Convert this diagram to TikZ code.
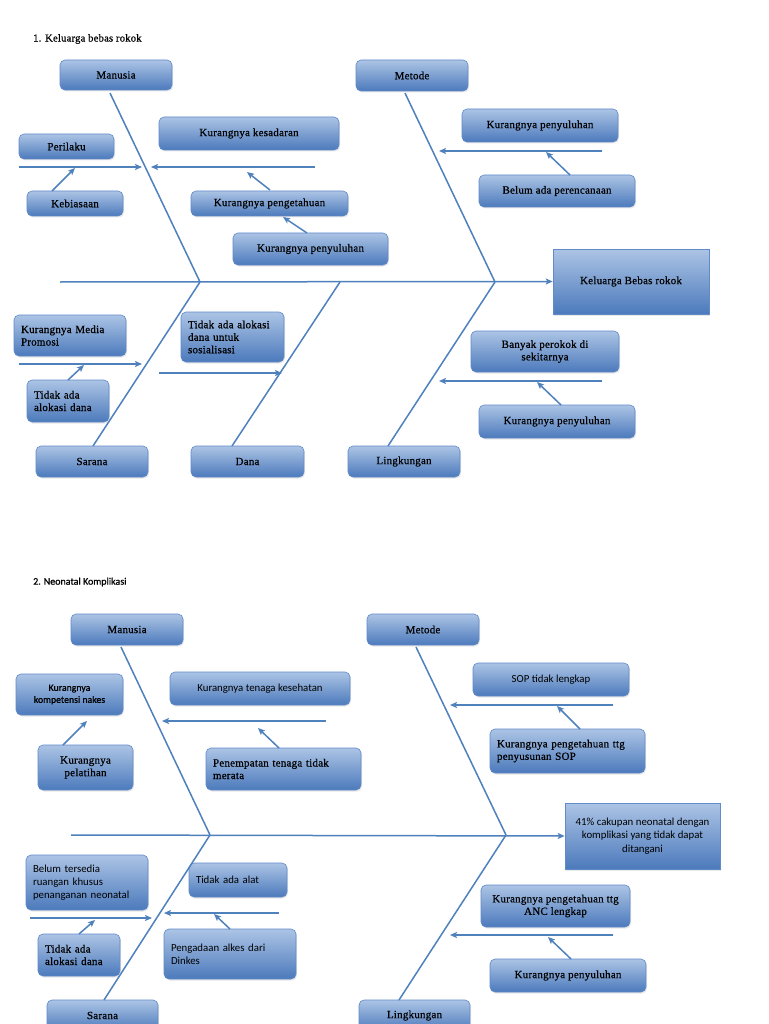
\documentclass[tikz,border=0pt]{standalone}
\usepackage{fontspec}
\setmainfont{Liberation Serif}
\newfontfamily\srf[LetterSpace=2,FakeBold=0.6]{Liberation Serif}
\newfontfamily\calfnt{Carlito}
\newfontfamily\calbold[FakeBold=0.8]{Carlito}
\usetikzlibrary{arrows.meta,shadows}
\definecolor{lt}{RGB}{172,196,229}
\definecolor{dk}{RGB}{76,122,188}
\definecolor{bdr}{RGB}{96,138,200}
\definecolor{ln}{RGB}{79,129,189}
\tikzset{
  boxbase/.style={draw=bdr, line width=0.6pt, top color=lt, bottom color=dk,
    inner xsep=7pt, inner ysep=2pt, align=center, text=black,
    drop shadow={opacity=0.18, shadow xshift=1pt, shadow yshift=-1.5pt}},
  box/.style={boxbase, rounded corners=5pt, font=\srf\fontsize{11}{12.5}\selectfont},
  cbox/.style={boxbase, rounded corners=5pt, font=\calfnt\fontsize{10.8}{13}\selectfont},
  sqbox/.style={boxbase, rounded corners=0pt, font=\srf\fontsize{11}{12.5}\selectfont},
  sqcbox/.style={boxbase, rounded corners=0pt, font=\calfnt\fontsize{10.8}{13.5}\selectfont},
  bone/.style={draw=ln, line width=1.5pt},
  arr/.style={draw=ln, line width=1.5pt, -{Stealth[length=7pt,width=6pt,inset=1.5pt]}},
  ttl/.style={anchor=west, inner sep=0pt, text=black}
}
\begin{document}
\begin{tikzpicture}[x=1pt,y=-1pt]
\clip (0,0) rectangle (768,1024);
\fill[white] (0,0) rectangle (768,1024);

% ================= Diagram 1 =================
\node[ttl, font=\srf\fontsize{10.6}{12}\selectfont] (t1) at (33,39) {1. Keluarga bebas rokok};

\node[box, minimum width=112pt, minimum height=30pt] (man1) at (116,75) {Manusia};
\node[box, minimum width=112pt, minimum height=31pt] (met1) at (412,75.5) {Metode};
\node[box, minimum width=95pt, minimum height=25pt] (per1) at (66.5,146.5) {Perilaku};
\node[box, minimum width=96pt, minimum height=25pt] (keb1) at (75,203.5) {Kebiasaan};
\node[box, minimum width=180pt, minimum height=33pt] (kes1) at (249,133.5) {Kurangnya kesadaran};
\node[box, minimum width=157pt, minimum height=25pt] (pen1) at (269.5,203.5) {Kurangnya pengetahuan};
\node[box, minimum width=155pt, minimum height=32pt] (pyl1) at (310.5,249) {Kurangnya penyuluhan};
\node[box, minimum width=156pt, minimum height=33pt] (mpy1) at (540,125.5) {Kurangnya penyuluhan};
\node[box, minimum width=156pt, minimum height=32pt] (bel1) at (557,191) {Belum ada perencanaan};
\node[sqbox, minimum width=156pt, minimum height=65pt] (res1) at (631,281.5) {Keluarga Bebas rokok};
\node[box, align=left, text width=98pt, minimum height=41pt] (med1) at (70,335.5) {Kurangnya Media\\Promosi};
\node[box, align=left, text width=68pt, minimum height=42pt] (tad1) at (68,401) {Tidak ada\\alokasi dana};
\node[box, align=left, text width=89pt, minimum height=50pt] (tds1) at (232.5,337) {Tidak ada alokasi\\dana untuk\\sosialisasi};
\node[box, minimum width=148pt, minimum height=41pt] (ban1) at (545,351.5) {Banyak perokok di\\sekitarnya};
\node[box, minimum width=156pt, minimum height=33pt] (lpy1) at (557,421.5) {Kurangnya penyuluhan};
\node[box, minimum width=112pt, minimum height=31pt] (sar1) at (92,461.5) {Sarana};
\node[box, minimum width=113pt, minimum height=31pt] (dan1) at (247.5,461.5) {Dana};
\node[box, minimum width=112pt, minimum height=31pt] (lin1) at (404,461.5) {Lingkungan};

% spine and bones
\coordinate (s1) at (60,282);
\coordinate (j1a) at (200,282);
\coordinate (j1b) at (340,282);
\coordinate (j1c) at (495,282);
\coordinate (bm1) at (110,93);
\coordinate (bt1) at (405,93);
\coordinate (bs1) at (93,446);
\coordinate (bd1) at (232,446);
\coordinate (bl1) at (388,446);
\draw[arr] (s1) -- (res1.west);
\draw[bone] (bm1) -- (j1a);
\draw[bone] (bt1) -- (j1c);
\draw[bone] (bs1) -- (j1a);
\draw[bone] (bd1) -- (j1b);
\draw[bone] (bl1) -- (j1c);

% sub-arrows
\coordinate (h1a) at (19,167);  \coordinate (h1b) at (142,167);
\coordinate (h2a) at (315,167); \coordinate (h2b) at (151,167);
\draw[arr] (h1a) -- (h1b);
\draw[arr] (h2a) -- (h2b);
\coordinate (k1a) at (52,191);  \coordinate (k1b) at (75,168);
\draw[arr] (k1a) -- (k1b);
\coordinate (p1a) at (270,190); \coordinate (p1b) at (247,172);
\draw[arr] (p1a) -- (p1b);
\coordinate (y1a) at (307,233); \coordinate (y1b) at (283,217);
\draw[arr] (y1a) -- (y1b);
\coordinate (m1a) at (602,151); \coordinate (m1b) at (439,151);
\draw[arr] (m1a) -- (m1b);
\coordinate (e1a) at (570,175); \coordinate (e1b) at (546,152);
\draw[arr] (e1a) -- (e1b);
\coordinate (r1a) at (19,364);  \coordinate (r1b) at (142,364);
\draw[arr] (r1a) -- (r1b);
\coordinate (d1a) at (68,380);  \coordinate (d1b) at (84,365);
\draw[arr] (d1a) -- (d1b);
\coordinate (n1a) at (159,373); \coordinate (n1b) at (282,373);
\draw[arr] (n1a) -- (n1b);
\coordinate (l1a) at (602,381); \coordinate (l1b) at (439,381);
\draw[arr] (l1a) -- (l1b);
\coordinate (q1a) at (561,405); \coordinate (q1b) at (537,382);
\draw[arr] (q1a) -- (q1b);

% ================= Diagram 2 =================
\node[ttl, font=\calbold\fontsize{10}{12}\selectfont] (t2) at (33,582) {2. Neonatal Komplikasi};

\node[box, minimum width=112pt, minimum height=31pt] (man2) at (127,629.5) {Manusia};
\node[box, minimum width=112pt, minimum height=31pt] (met2) at (423,629.5) {Metode};
\node[cbox, font=\calbold\fontsize{9.8}{12}\selectfont, minimum width=107pt, minimum height=41pt] (kom2) at (69.5,694.5) {Kurangnya\\kompetensi nakes};
\node[box, minimum width=95pt, minimum height=45pt] (pel2) at (85.5,767.5) {Kurangnya\\pelatihan};
\node[cbox, minimum width=180pt, minimum height=33pt] (ten2) at (260,688.5) {Kurangnya tenaga kesehatan};
\node[box, align=left, text width=141pt, minimum height=42pt] (pnp2) at (283.5,769) {Penempatan tenaga tidak\\merata};
\node[cbox, minimum width=156pt, minimum height=33pt] (sop2) at (551,679.5) {SOP tidak lengkap};
\node[box, align=left, text width=141pt, minimum height=44pt] (kps2) at (567.5,751) {Kurangnya pengetahuan ttg\\penyusunan SOP};
\node[sqcbox, minimum width=155pt, minimum height=66pt] (res2) at (642.5,836) {41\% cakupan neonatal dengan\\komplikasi yang tidak dapat\\ditangani};
\node[cbox, align=left, text width=108pt, minimum height=55pt] (blm2) at (87,882.5) {Belum tersedia\\ruangan khusus\\penanganan neonatal};
\node[box, align=left, text width=68pt, minimum height=42pt] (tda2) at (79,955) {Tidak ada\\alokasi dana};
\node[cbox, align=left, text width=84pt, minimum height=34pt] (ala2) at (238,880) {Tidak ada alat};
\node[cbox, align=left, text width=118pt, minimum height=50pt] (pga2) at (230,954) {Pengadaan alkes dari\\Dinkes};
\node[box, minimum width=149pt, minimum height=42pt] (anc2) at (555.5,906) {Kurangnya pengetahuan ttg\\ANC lengkap};
\node[box, minimum width=156pt, minimum height=33pt] (kpy2) at (568,975.5) {Kurangnya penyuluhan};
\node[box, minimum width=111pt, minimum height=31pt] (sar2) at (102.5,1015.5) {Sarana};
\node[box, minimum width=111pt, minimum height=31pt] (lin2) at (414.5,1015.5) {Lingkungan};

% spine and bones
\coordinate (s2) at (71,835);
\coordinate (j2a) at (210,835);
\coordinate (j2c) at (506,835);
\coordinate (bm2) at (121,647);
\coordinate (bt2) at (416,647);
\coordinate (bs2) at (104,1000);
\coordinate (bl2) at (399,1000);
\draw[arr] (s2) -- (res2.west);
\draw[bone] (bm2) -- (j2a);
\draw[bone] (bt2) -- (j2c);
\draw[bone] (bs2) -- (j2a);
\draw[bone] (bl2) -- (j2c);

% sub-arrows
\coordinate (a2a) at (63,745);  \coordinate (a2b) at (87,721);
\draw[arr] (a2a) -- (a2b);
\coordinate (h3a) at (326,721); \coordinate (h3b) at (162,721);
\draw[arr] (h3a) -- (h3b);
\coordinate (p2a) at (279,748); \coordinate (p2b) at (258,728);
\draw[arr] (p2a) -- (p2b);
\coordinate (m2a) at (613,705); \coordinate (m2b) at (450,705);
\draw[arr] (m2a) -- (m2b);
\coordinate (k2a) at (580,729); \coordinate (k2b) at (557,706);
\draw[arr] (k2a) -- (k2b);
\coordinate (r2a) at (30,918);  \coordinate (r2b) at (152,918);
\draw[arr] (r2a) -- (r2b);
\coordinate (d2a) at (79,934);  \coordinate (d2b) at (95,920);
\draw[arr] (d2a) -- (d2b);
\coordinate (n2a) at (279,913); \coordinate (n2b) at (164,913);
\draw[arr] (n2a) -- (n2b);
\coordinate (g2a) at (230,929); \coordinate (g2b) at (214,914);
\draw[arr] (g2a) -- (g2b);
\coordinate (l2a) at (613,935); \coordinate (l2b) at (450,935);
\draw[arr] (l2a) -- (l2b);
\coordinate (q2a) at (571,959); \coordinate (q2b) at (548,937);
\draw[arr] (q2a) -- (q2b);
\end{tikzpicture}
\end{document}
